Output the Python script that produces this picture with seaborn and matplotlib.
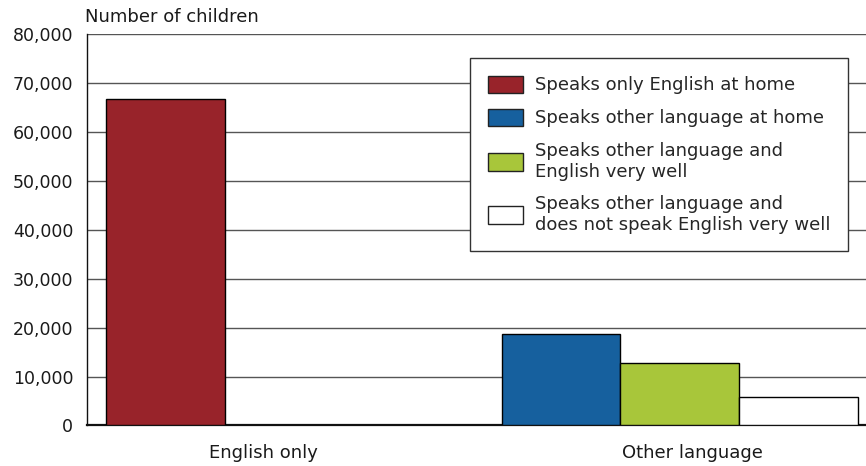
import matplotlib
matplotlib.use("Agg")
import matplotlib.pyplot as plt
import pandas as pd
import seaborn as sns
from matplotlib.ticker import FuncFormatter

# Children by language spoken at home
groups = ["English only", "Other language", "Other language", "Other language"]
series = [
    "Speaks only English at home",
    "Speaks other language at home",
    "Speaks other language and\nEnglish very well",
    "Speaks other language and\ndoes not speak English very well",
]
counts = [66700, 18700, 12700, 5900]
colors = ["#98232a", "#16609e", "#a8c63a", "#ffffff"]
category_labels = ["English only", "Other language"]
y_ticks = [0, 10000, 20000, 30000, 40000, 50000, 60000, 70000, 80000]

df = pd.DataFrame({"group": groups, "series": series, "count": counts})

sns.set_theme(style="white")
plt.rcParams["font.family"] = ["DejaVu Sans"]
plt.rcParams["font.size"] = 13

fig = plt.figure(figsize=(8.66, 4.66), dpi=100)
ax = fig.add_axes([0.1005, 0.087, 0.8995, 0.84])

sns.barplot(
    data=df, x="group", y="count", hue="series",
    order=category_labels, hue_order=series,
    palette=colors, saturation=1, errorbar=None,
    width=1.715, gap=0, edgecolor="black", linewidth=1,
    ax=ax, zorder=3,
)

ax.set_ylim(0, 80000)
ax.set_yticks(y_ticks)
ax.yaxis.set_major_formatter(FuncFormatter(lambda v, p: f"{int(v):,}"))
ax.set_xlim(-0.927, 1.888)
# category names sit centred under each cluster's occupied bars
ax.set_xticks([-0.29, 1.26])
ax.set_xticklabels(category_labels)
ax.set_xlabel("")
ax.set_ylabel("")
ax.tick_params(axis="x", length=0, pad=13, labelsize=13, colors="#1a1a1a")
ax.tick_params(axis="y", length=0, pad=10, labelsize=12.5, colors="#1a1a1a")

ax.yaxis.grid(True, color="#555555", linewidth=1)
ax.set_axisbelow(True)
for s in ["top", "right"]:
    ax.spines[s].set_visible(False)
ax.spines["left"].set_color("#111111")
ax.spines["left"].set_linewidth(1)
ax.spines["bottom"].set_color("#111111")
ax.spines["bottom"].set_linewidth(1.6)

old = ax.get_legend()
handles = list(old.legend_handles)
labels = [t.get_text() for t in old.texts]
old.remove()
for h in handles:
    h.set_edgecolor("#222222")
    h.set_linewidth(1)
leg = ax.legend(
    handles, labels, loc="upper right", bbox_to_anchor=(0.977, 0.939),
    frameon=True, fancybox=False, framealpha=1, edgecolor="#333333",
    fontsize=13, handlelength=1.95, handleheight=1.1, handletextpad=0.65,
    labelspacing=0.79, borderpad=0.98, borderaxespad=0,
)
leg.get_frame().set_linewidth(1)
leg.set_zorder(5)

fig.text(85 / 866, 1 - 17 / 466, "Number of children", ha="left", va="center",
         fontsize=13, color="#1a1a1a")

fig.savefig("out.png", dpi=100)
